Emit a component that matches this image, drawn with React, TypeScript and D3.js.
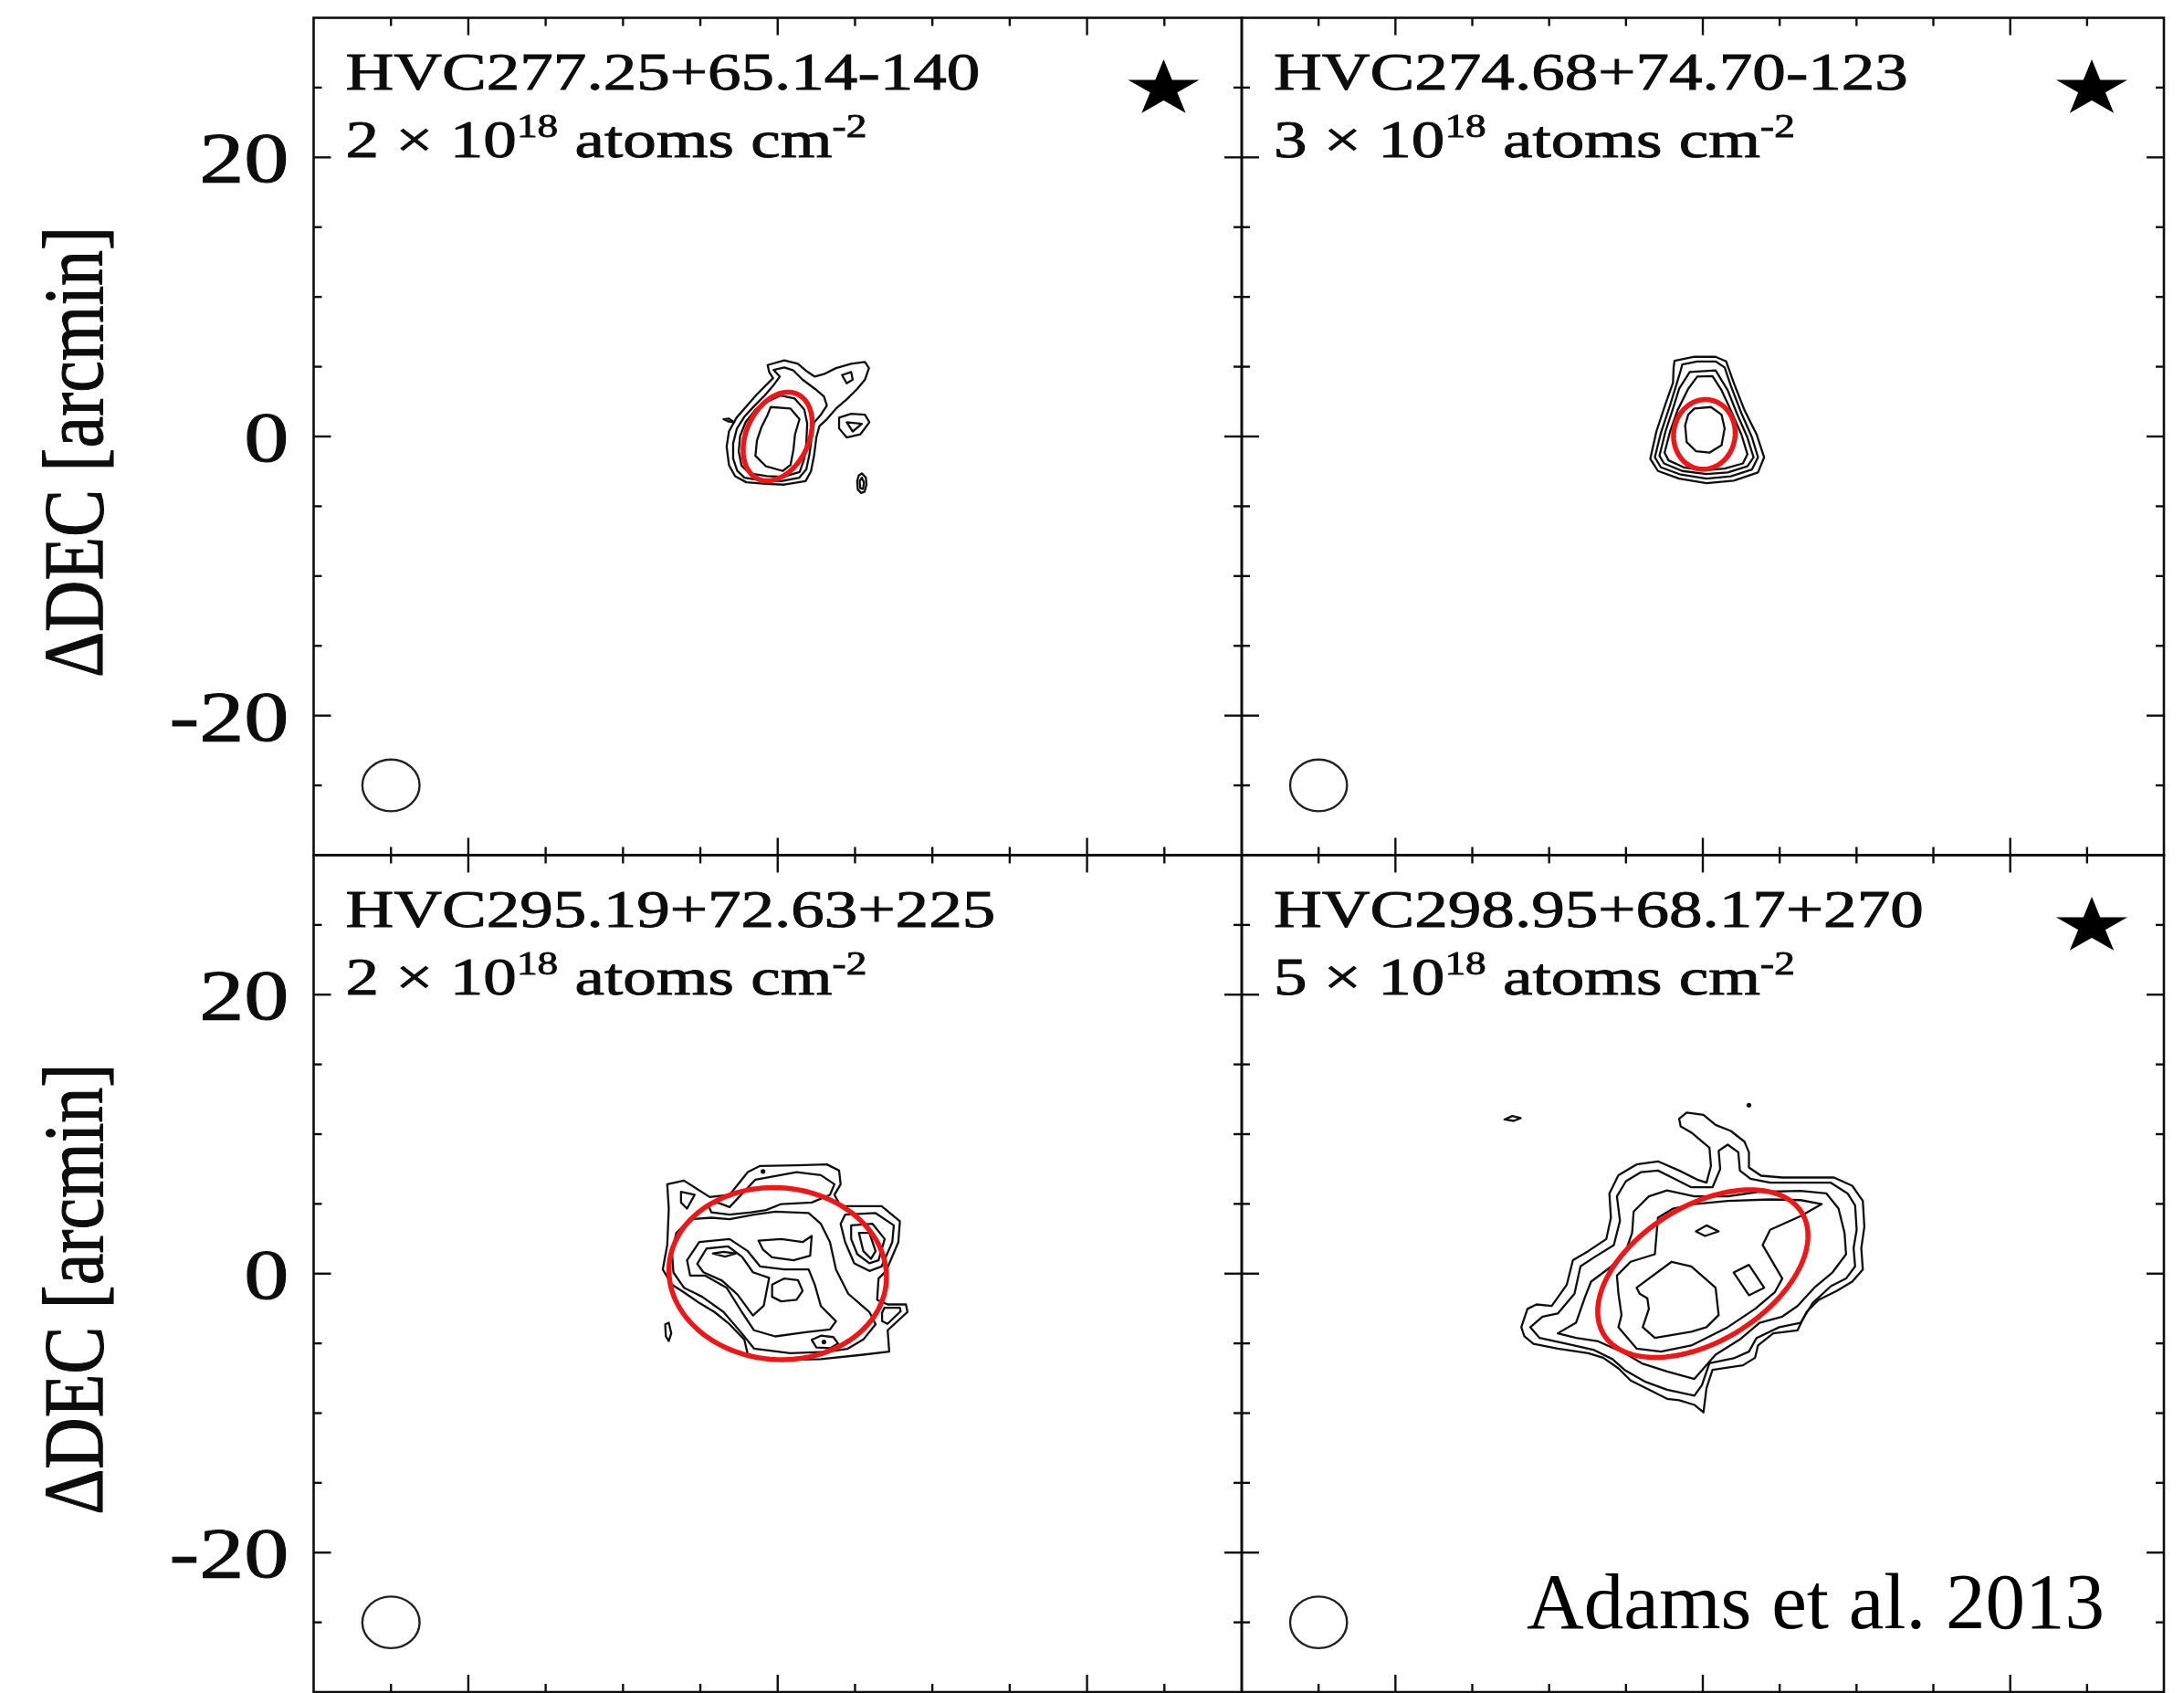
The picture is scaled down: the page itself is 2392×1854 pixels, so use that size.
import React from 'react';
import * as d3 from 'd3';

type Pt = [number, number];

// ---- Panel annotations ----
const cloudNames = [
  'HVC277.25+65.14-140',
  'HVC274.68+74.70-123',
  'HVC295.19+72.63+225',
  'HVC298.95+68.17+270',
];
const lowestContour = ['2', '3', '2', '5']; // × 10^18 atoms cm^-2
const starFlags = [true, true, false, true];
const creditText = 'Adams et al. 2013';
const yAxisTitle = 'ΔDEC [arcmin]';

// ---- Axes (arcmin offsets) ----
const axisExtent: Pt = [-30, 30];
const tickValues = [-25, -20, -15, -10, -5, 0, 5, 10, 15, 20, 25];
const majorTicks = [-20, 0, 20];
const yTickLabels = [20, 0, -20];

// ---- Beam (arcmin) ----
const beamCenter: Pt = [-25, -25];
const beamDiameter = 3.7;

// ---- Fitted ellipses (arcmin, angle in degrees from +x) ----
const fitCenters: Pt[] = [[0, 0], [0.1, 0.15], [0, 0], [0, 0]];
const fitMajor = [3.3, 2.5, 7.05, 7.8];
const fitMinor = [2.05, 2.0, 6.15, 4.7];
const fitAngle = [70, 85, -8, 37];

// ---- HI column density contours (arcmin) ----
const hvc277Contours: Pt[][] = [
  [[-0.65, 5.12], [0.43, 5.45], [1.31, 5.21], [1.81, 4.73], [2.4, 4.29], [2.99, 4.47], [3.77, 4.9], [4.75, 5.21], [5.64, 5.34], [5.9, 4.9], [5.64, 4.07], [5.15, 3.42], [4.46, 2.66], [3.77, 2.0], [3.18, 1.24], [2.7, 0.75], [2.5, -0.07], [2.35, -1.38], [2.15, -2.5], [1.8, -3.2], [0.43, -3.45], [-0.75, -3.4], [-2.03, -3.28], [-2.75, -2.85], [-3.15, -2.04], [-3.3, -0.73], [-3.15, 0.36], [-2.66, 1.35], [-1.97, 2.22], [-1.38, 2.98], [-0.79, 3.64], [-0.3, 4.18], [-0.55, 4.62]],
  [[-0.26, 4.77], [0.43, 4.95], [1.02, 4.73], [1.61, 4.07], [2.4, 3.42], [2.99, 2.87], [3.18, 2.22], [2.79, 1.56], [2.35, 1.0], [2.2, -0.07], [2.05, -1.3], [1.85, -2.35], [1.4, -2.95], [0.24, -3.2], [-0.95, -3.16], [-2.15, -2.95], [-2.62, -2.45], [-2.88, -1.58], [-2.88, -0.5], [-2.64, 0.56], [-2.15, 1.42], [-1.5, 2.2], [-0.82, 2.96], [-0.24, 3.72], [0.14, 4.29]],
  [[-1.43, 1.93], [-0.62, 2.53], [0.2, 2.94], [1.09, 2.73], [1.72, 1.93], [1.91, 0.93], [1.85, -0.48], [1.72, -1.6], [1.42, -2.55], [0.37, -2.89], [-0.71, -2.84], [-1.8, -2.64], [-2.34, -2.08], [-2.52, -1.08], [-2.43, 0.03], [-2.07, 1.03]],
  [[-0.45, 2.11], [0.83, 2.0], [1.41, 1.24], [1.12, 0.15], [1.02, -0.94], [0.83, -2.04], [0.33, -2.47], [-0.75, -2.14], [-1.44, -1.38], [-1.34, -0.29], [-1.04, 0.69], [-0.65, 1.56]],
  [[4.16, 4.4], [4.75, 4.62], [4.85, 4.07], [4.46, 3.81]],
  [[3.97, 1.35], [4.75, 1.63], [5.64, 1.56], [5.93, 1.02], [5.34, 0.15], [4.46, -0.07], [3.97, 0.58]],
  [[4.46, 1.02], [5.44, 0.91], [4.85, 0.36]],
  [[5.44, -2.64], [5.7, -2.95], [5.74, -3.45], [5.62, -3.95], [5.4, -4.05], [5.18, -3.8], [5.14, -3.2], [5.24, -2.8]],
  [[5.44, -2.95], [5.58, -3.3], [5.52, -3.75], [5.34, -3.7], [5.3, -3.2]],
  [[-3.5, 1.24], [-3.15, 1.28], [-2.81, 1.02], [-3.2, 1.08]],
];

const hvc274Contours: Pt[][] = [
  [[-1.84, 5.43], [-0.55, 5.71], [0.83, 5.71], [1.52, 5.38], [2.01, 3.85], [2.71, 1.89], [3.5, 0.15], [3.99, -1.49], [3.59, -2.58], [2.01, -3.17], [0.24, -3.34], [-1.54, -3.02], [-2.92, -2.47], [-3.42, -1.6], [-3.02, 0.36], [-2.43, 2.33], [-1.94, 3.85], [-1.9, 4.95]],
  [[-1.34, 5.16], [-0.36, 5.38], [0.83, 5.38], [1.42, 4.95], [1.82, 3.64], [2.51, 1.67], [3.2, -0.07], [3.59, -1.49], [3.2, -2.36], [1.82, -2.86], [0.24, -3.02], [-1.44, -2.73], [-2.73, -2.21], [-3.12, -1.49], [-2.73, 0.26], [-2.17, 2.11], [-1.74, 3.64], [-1.44, 4.73]],
  [[-0.85, 4.62], [0.83, 4.73], [1.62, 3.31], [2.21, 1.67], [2.9, -0.07], [3.3, -1.49], [2.9, -2.14], [1.62, -2.58], [0.24, -2.69], [-1.34, -2.47], [-2.53, -1.93], [-2.82, -1.38], [-2.43, 0.36], [-1.94, 2.0], [-1.54, 3.42]],
  [[-0.36, 4.29], [0.63, 4.33], [1.22, 3.31], [1.82, 1.89], [2.51, 0.15], [2.9, -1.27], [2.61, -1.93], [1.42, -2.3], [0.04, -2.43], [-1.24, -2.21], [-2.23, -1.71], [-2.49, -1.16], [-2.13, 0.36], [-1.64, 1.89], [-0.95, 3.42]],
  [[-0.55, 2.0], [0.53, 2.11], [1.22, 1.56], [1.42, 0.58], [1.22, -0.62], [0.43, -1.16], [-0.45, -1.05], [-1.05, -0.4], [-1.15, 0.8], [-0.95, 1.56]],
];

const hvc295Contours: Pt[][] = [
  [[-7.14, 6.41], [-6.06, 6.67], [-4.39, 5.49], [-3.11, 5.65], [-1.93, 7.28], [-1.14, 7.72], [1.22, 7.76], [3.18, 7.83], [3.97, 7.39], [4.07, 6.41], [3.67, 5.65], [4.07, 4.84], [6.72, 4.84], [7.9, 3.75], [7.8, 2.26], [7.01, 0.19], [6.52, -0.35], [6.43, -1.88], [7.11, -2.21], [8.29, -2.21], [8.39, -2.75], [7.11, -4.06], [7.21, -5.59], [5.54, -5.81], [2.79, -6.13], [-0.16, -6.2], [-1.93, -5.81], [-2.16, -4.72], [-3.11, -3.63], [-4.09, -2.75], [-5.07, -2.1], [-6.06, -1.34], [-6.84, -0.79], [-7.43, 0.3], [-7.14, 2.05], [-7.04, 4.66]],
  [[-3.11, 4.77], [-1.44, 6.74], [1.22, 7.28], [2.79, 7.06], [3.67, 6.41], [3.38, 5.65], [2.2, 5.1], [0.23, 4.99], [-0.75, 4.56], [-1.73, 4.4], [-3.11, 4.23], [-4.29, 4.4], [-4.48, 4.88], [-3.89, 5.1]],
  [[-6.55, 2.92], [-5.66, 3.9], [-4.29, 4.01], [-3.11, 3.9], [-1.53, 4.23], [-0.16, 4.45], [2.0, 4.34], [2.79, 3.57], [3.38, 2.26], [3.77, 0.3], [4.56, -1.44], [5.93, -2.75], [6.33, -3.63], [5.54, -4.72], [4.5, -5.4], [3.18, -5.6], [0.82, -5.7], [-1.53, -5.37], [-2.32, -4.28], [-3.5, -2.75], [-4.88, -1.66], [-6.06, -1.01], [-6.74, 0.08], [-6.84, 1.61]],
  [[-5.86, 0.96], [-5.07, 2.26], [-3.11, 2.48], [-1.93, 1.61], [-1.14, 0.52], [0.43, 0.3], [2.0, 0.3], [2.4, -0.79], [2.79, -2.32], [3.77, -3.41], [3.38, -4.0], [1.81, -4.2], [-0.16, -4.5], [-1.53, -4.06], [-2.32, -2.75], [-3.3, -1.01], [-4.68, -0.14], [-5.66, -0.14]],
  [[-5.2, 0.7], [-4.6, 1.8], [-3.2, 1.95], [-2.3, 1.2], [-1.6, 0.1], [-0.55, -0.3], [-0.9, -2.3], [-1.6, -3.0], [-2.6, -1.5], [-3.6, -0.5], [-4.8, 0.1]],
  [[-1.24, 2.37], [0.23, 2.48], [1.61, 2.26], [2.2, 2.7], [2.1, 1.28], [1.02, 0.96], [-0.36, 1.17], [-0.95, 1.72]],
  [[-0.36, -0.79], [0.43, -0.35], [1.31, -0.46], [1.61, -1.23], [1.22, -1.88], [0.23, -1.99], [-0.36, -1.66]],
  [[-4.19, 1.44], [-3.5, 1.57], [-2.71, 1.44], [-3.4, 1.22]],
  [[2.2, -4.75], [2.8, -4.45], [3.6, -4.55], [3.9, -5.0], [3.4, -5.35], [2.5, -5.3]],
  [[4.36, 4.23], [6.33, 4.34], [7.51, 3.46], [7.41, 2.26], [6.72, 0.52], [5.93, 0.19], [4.95, 0.74], [4.36, 2.26], [4.07, 3.57]],
  [[4.75, 3.46], [6.13, 3.57], [6.92, 2.48], [6.52, 0.96], [5.93, 0.74], [5.15, 1.39], [4.75, 2.48]],
  [[5.25, 2.92], [5.93, 2.92], [6.33, 1.61], [6.03, 1.06], [5.54, 1.61]],
  [[6.9, -2.45], [7.9, -2.45], [7.95, -2.7], [7.1, -3.6], [6.75, -3.4], [6.75, -2.8]],
  [[-7.27, -3.63], [-7.04, -3.52], [-6.88, -4.28], [-7.04, -4.83], [-7.23, -4.5]],
  [[-6.25, 5.86], [-5.37, 5.65], [-5.86, 4.66], [-6.25, 5.1]],
];

const hvc298Contours: Pt[][] = [
  [[-11.81, -3.84], [-11.41, -2.53], [-10.82, -2.21], [-9.83, -2.32], [-8.85, -0.79], [-8.45, 0.96], [-7.46, 1.61], [-6.28, 2.48], [-5.98, 4.01], [-6.08, 5.75], [-5.49, 7.06], [-4.31, 7.83], [-2.92, 8.05], [-1.54, 7.39], [-0.36, 6.74], [0.24, 6.52], [0.53, 7.72], [0.43, 9.03], [-0.75, 10.12], [-1.44, 10.55], [-1.54, 11.1], [-1.05, 11.54], [0.04, 11.38], [0.83, 10.66], [1.82, 10.23], [2.71, 9.46], [3.0, 8.7], [3.0, 7.61], [3.79, 7.02], [5.17, 6.89], [8.53, 6.89], [9.72, 6.3], [10.41, 5.21], [10.51, 3.36], [10.31, 1.83], [10.41, 0.3], [9.72, -0.57], [8.73, -1.23], [7.54, -1.88], [6.75, -2.75], [6.16, -4.06], [4.58, -4.28], [3.59, -5.15], [3.4, -6.03], [2.61, -6.57], [0.63, -6.9], [0.24, -8.21], [0.04, -9.95], [-0.55, -9.41], [-1.54, -9.08], [-2.33, -8.97], [-3.51, -8.32], [-4.7, -7.66], [-5.49, -6.79], [-6.48, -6.03], [-7.46, -5.7], [-9.44, -5.37], [-11.02, -5.04], [-11.61, -4.5]],
  [[-11.22, -3.84], [-10.43, -3.08], [-9.44, -2.86], [-8.35, -1.44], [-7.96, 0.52], [-7.07, 1.17], [-5.79, 2.05], [-5.39, 3.79], [-5.59, 5.54], [-5.0, 6.63], [-4.01, 7.28], [-2.92, 7.39], [-1.74, 6.74], [-0.75, 6.19], [0.63, 6.19], [1.13, 7.5], [1.03, 8.81], [1.62, 9.25], [2.31, 8.7], [2.41, 7.39], [3.1, 6.8], [4.38, 6.52], [8.33, 6.52], [9.42, 5.75], [9.91, 4.88], [10.01, 3.14], [9.81, 1.83], [9.91, 0.52], [9.32, -0.35], [8.33, -0.9], [7.15, -2.1], [6.36, -3.52], [4.98, -3.84], [3.5, -4.61], [3.0, -5.59], [2.01, -6.07], [0.43, -6.42], [-0.06, -7.99], [-0.55, -8.75], [-2.33, -8.32], [-3.71, -7.77], [-5.09, -6.9], [-5.88, -6.13], [-7.07, -5.48], [-8.85, -5.04], [-10.62, -4.61]],
  [[-9.44, -4.28], [-8.25, -3.52], [-7.66, -1.66], [-7.27, -0.57], [-6.08, 0.41], [-5.09, 1.39], [-4.6, 2.92], [-4.5, 4.45], [-3.51, 5.54], [-2.33, 5.97], [-0.55, 5.54], [1.62, 5.54], [3.59, 5.86], [6.36, 5.93], [8.04, 5.75], [8.83, 4.66], [9.22, 2.92], [9.32, 1.39], [8.43, 0.08], [7.25, -1.01], [6.16, -2.32], [5.17, -3.08], [3.69, -3.52], [2.41, -4.72], [0.83, -5.81], [-0.55, -7.55], [-2.33, -7.01], [-3.91, -6.46], [-5.09, -5.7], [-6.87, -4.83], [-8.25, -4.61]],
  [[7.74, 4.99], [6.36, 4.12], [4.38, 3.14], [3.89, 2.05], [5.17, -0.35], [4.68, -1.34], [3.4, -2.53], [1.62, -3.84], [-0.75, -5.15], [-2.73, -5.59], [-4.31, -5.37], [-5.49, -3.84], [-5.29, -2.97], [-5.49, -1.44], [-5.59, -0.14], [-4.7, 0.85], [-3.12, 1.39], [-2.92, 4.01], [-1.94, 4.66], [-0.55, 4.99], [1.62, 5.21], [4.38, 5.32], [6.36, 5.27]],
  [[-4.31, -1.01], [-2.03, 0.85], [-0.75, 0.52], [0.83, -1.01], [1.03, -2.97], [0.24, -3.84], [-0.75, -4.17], [-3.12, -4.61], [-3.91, -3.84], [-3.51, -2.53], [-3.61, -1.77], [-4.11, -1.44]],
  [[-0.45, 3.03], [0.24, 3.46], [1.03, 3.03], [0.14, 2.7]],
  [[2.01, 0.08], [3.0, 0.63], [3.99, -1.01], [3.0, -1.55]],
  [[-12.9, 11.05], [-12.4, 11.3], [-11.85, 11.15], [-12.3, 10.95]],
];

const allContours = [hvc277Contours, hvc274Contours, hvc295Contours, hvc298Contours];
const contourDots: Pt[][] = [[], [], [[-0.95, 7.33], [2.99, -4.9]], [[3.0, 12.08]]];

// ---- Layout ----
const W = 2392;
const H = 1854;
const colEdges = [343.5, 1360, 2370];
const rowEdges = [19.5, 936.5, 1853];
const FONT = "'Liberation Serif', 'Times New Roman', serif";
const STRETCH = 1.26;
const INK = '#0a0a0a';

function ellipseOutline(c: Pt, a: number, b: number, angleDeg: number): Pt[] {
  const th = (angleDeg * Math.PI) / 180;
  return d3.range(0, 360, 3).map((deg) => {
    const t = (deg * Math.PI) / 180;
    const u = a * Math.cos(t);
    const v = b * Math.sin(t);
    return [c[0] + u * Math.cos(th) - v * Math.sin(th), c[1] + u * Math.sin(th) + v * Math.cos(th)] as Pt;
  });
}

function Panel({ i }: { i: number }) {
  const col = i % 2;
  const row = Math.floor(i / 2);
  const x0 = colEdges[col];
  const x1 = colEdges[col + 1];
  const y0 = rowEdges[row];
  const y1 = rowEdges[row + 1];
  const xs = d3.scaleLinear().domain(axisExtent).range([x0, x1]);
  const ys = d3.scaleLinear().domain(axisExtent).range([y1, y0]);
  const line = d3
    .line<Pt>()
    .x((d) => xs(d[0]))
    .y((d) => ys(d[1]))
    .curve(d3.curveLinearClosed);
  const fit = ellipseOutline(fitCenters[i], fitMajor[i], fitMinor[i], fitAngle[i]);
  const star = d3.symbol().type(d3.symbolStar).size(1190)();
  const textInk = { fill: INK, stroke: INK, strokeWidth: 0.9 };

  return (
    <g>
      {allContours[i].map((c, k) => (
        <path key={k} d={line(c) || ''} fill="none" stroke="#111" strokeWidth={2.3} strokeLinejoin="round" />
      ))}
      {contourDots[i].map((p, k) => (
        <circle key={'d' + k} cx={xs(p[0])} cy={ys(p[1])} r={2.6} fill="#111" />
      ))}
      <path d={line(fit) || ''} fill="none" stroke="#f01818" strokeWidth={5.5} />
      <ellipse
        cx={xs(beamCenter[0])}
        cy={ys(beamCenter[1])}
        rx={xs(beamDiameter / 2) - xs(0)}
        ry={ys(0) - ys(beamDiameter / 2)}
        fill="none"
        stroke="#222"
        strokeWidth={2.4}
      />
      {starFlags[i] && (
        <path d={star || ''} transform={`translate(${x0 + 931},${y0 + 78}) scale(${STRETCH},1)`} fill="#000" />
      )}
      <text
        transform={`translate(${x0 + 35},${y0 + 78}) scale(${STRETCH},1)`}
        fontFamily={FONT}
        fontSize={58}
        {...textInk}
      >
        {cloudNames[i]}
      </text>
      <text
        transform={`translate(${x0 + 35},${y0 + 152}) scale(${STRETCH},1)`}
        fontFamily={FONT}
        fontSize={58}
        {...textInk}
      >
        {`${lowestContour[i]} × 10`}
        <tspan fontSize={36} dy={-22}>18</tspan>
        <tspan dy={22}> atoms cm</tspan>
        <tspan fontSize={36} dy={-22}>-2</tspan>
      </text>
      {tickValues.map((v) => {
        const len = majorTicks.includes(v) ? 19 : 9;
        return (
          <g key={'t' + v} stroke="#111" strokeWidth={2.4}>
            <line x1={xs(v)} x2={xs(v)} y1={y1} y2={y1 - len} />
            <line x1={xs(v)} x2={xs(v)} y1={y0} y2={y0 + len} />
            <line x1={x0} x2={x0 + len} y1={ys(v)} y2={ys(v)} />
            <line x1={x1} x2={x1 - len} y1={ys(v)} y2={ys(v)} />
          </g>
        );
      })}
      <rect x={x0} y={y0} width={x1 - x0} height={y1 - y0} fill="none" stroke="#111" strokeWidth={2.6} />
      {col === 0 && (
        <g>
          {yTickLabels.map((v) => (
            <text
              key={'l' + v}
              transform={`translate(${x0 - 27},${ys(v) + 27}) scale(${STRETCH},1)`}
              textAnchor="end"
              fontFamily={FONT}
              fontSize={78}
              {...textInk}
            >
              {String(v)}
            </text>
          ))}
          <text
            transform={`translate(${111.6},${ys(0) + 17}) scale(1.2,1) rotate(-90)`}
            textAnchor="middle"
            fontFamily={FONT}
            fontSize={78}
            {...textInk}
          >
            {yAxisTitle}
          </text>
        </g>
      )}
    </g>
  );
}

export default function App() {
  return (
    <svg
      width={W}
      height={H}
      viewBox={`0 0 ${W} ${H}`}
      style={{ position: 'absolute', left: 0, top: 0, background: '#fff' }}
    >
      <defs>
        <filter id="soft" x="0" y="0" width="1" height="1">
          <feGaussianBlur stdDeviation={0.6} />
        </filter>
      </defs>
      <rect x={0} y={0} width={W} height={H} fill="#fff" />
      <g filter="url(#soft)">
        <rect x={0} y={0} width={W} height={H} fill="#fff" />
        {[0, 1, 2, 3].map((i) => (
          <Panel key={i} i={i} />
        ))}
      </g>
      <text x={1672} y={1783} fontFamily={FONT} fontSize={87} fill="#000">
        {creditText}
      </text>
    </svg>
  );
}
